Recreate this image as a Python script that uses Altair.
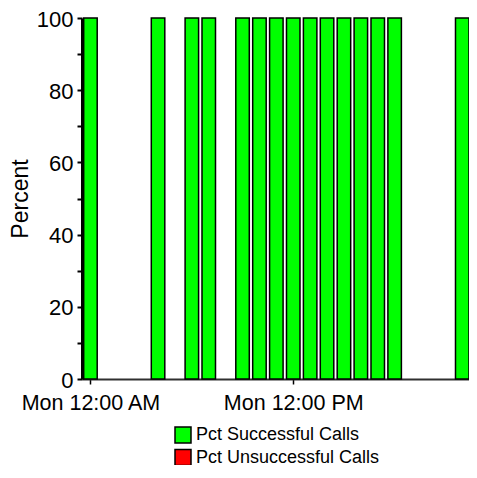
import altair as alt
import pandas as pd

# Hours of the day (Monday) with a bar
hours = [0, 4, 6, 7, 9, 10, 11, 12, 13, 14, 15, 16, 17, 18, 22]
pct_successful = [100, 100, 100, 100, 100, 100, 100, 100, 100, 100, 100, 100, 100, 100, 100]
pct_unsuccessful = [0, 0, 0, 0, 0, 0, 0, 0, 0, 0, 0, 0, 0, 0, 0]
series_names = ["Pct Successful Calls", "Pct Unsuccessful Calls"]
series_colors = ["#00FF00", "#FF0000"]
y_ticks = [0, 10, 20, 30, 40, 50, 60, 70, 80, 90, 100]
x_tick_hours = [0, 12]
x_tick_labels = ["Mon 12:00 AM", "Mon 12:00 PM"]
x_range_hours = [-0.5, 22.4]

rows = []
for h, s, u in zip(hours, pct_successful, pct_unsuccessful):
    rows.append({"hour": h, "series": series_names[0], "pct": s, "ord": 0})
    rows.append({"hour": h, "series": series_names[1], "pct": u, "ord": 1})
df = pd.DataFrame(rows)

FONT = "Liberation Sans"

label_expr = " : ".join(
    f"datum.value == {h} ? '{lab}'" for h, lab in zip(x_tick_hours, x_tick_labels)
) + " : ''"

chart = alt.Chart(df).transform_filter("datum.pct > 0").mark_bar(
    width=13.5, stroke="black", strokeWidth=1.5
).encode(
    x=alt.X(
        "hour:Q",
        scale=alt.Scale(domain=x_range_hours, nice=False, zero=False, padding=0),
        axis=alt.Axis(
            values=x_tick_hours,
            labelExpr=label_expr,
            title=None,
            grid=False,
            domainColor="#303030",
            domainWidth=2,
            tickColor="black",
            tickWidth=1.5,
            tickSize=5,
            labelFont=FONT,
            labelFontSize=21.5,
            labelColor="black",
            labelPadding=8,
            labelFlush=False,
            labelOverlap=False,
            labelBound=False,
        ),
    ),
    y=alt.Y(
        "pct:Q",
        stack="zero",
        scale=alt.Scale(domain=[0, 100], nice=False),
        axis=alt.Axis(
            values=y_ticks,
            labelExpr="datum.value % 20 == 0 ? datum.label : ''",
            title="Percent",
            titleFont=FONT,
            titleFontSize=23,
            titleFontWeight="normal",
            titleColor="black",
            titleX=-62,
            titleY=180.5,
            titleAngle=270,
            titleAlign="center",
            titleBaseline="middle",
            grid=False,
            domainColor="black",
            domainWidth=3,
            tickColor="black",
            tickWidth=2,
            tickSize=5,
            labelFont=FONT,
            labelFontSize=22,
            labelColor="black",
            labelPadding=4,
            labelOffset=1,
            labelOverlap=False,
        ),
    ),
    color=alt.Color(
        "series:N",
        scale=alt.Scale(domain=series_names, range=series_colors),
        legend=alt.Legend(
            title=None,
            orient="none",
            legendX=92,
            legendY=408,
            direction="vertical",
            symbolType="square",
            symbolSize=256,
            symbolStrokeColor="black",
            symbolStrokeWidth=1.5,
            symbolOpacity=1,
            labelFont=FONT,
            labelFontSize=18,
            labelColor="black",
            labelOffset=4,
            labelLimit=0,
            rowPadding=0.5,
            padding=0,
        ),
    ),
    order=alt.Order("ord:Q"),
).properties(
    width=387,
    height=361,
    autosize=alt.AutoSizeParams(type="none"),
    padding={"left": 74, "top": 10, "right": 0, "bottom": 86},
).configure_view(stroke=None)

chart.save("out.html", embed_options={"renderer": "svg", "actions": False})
